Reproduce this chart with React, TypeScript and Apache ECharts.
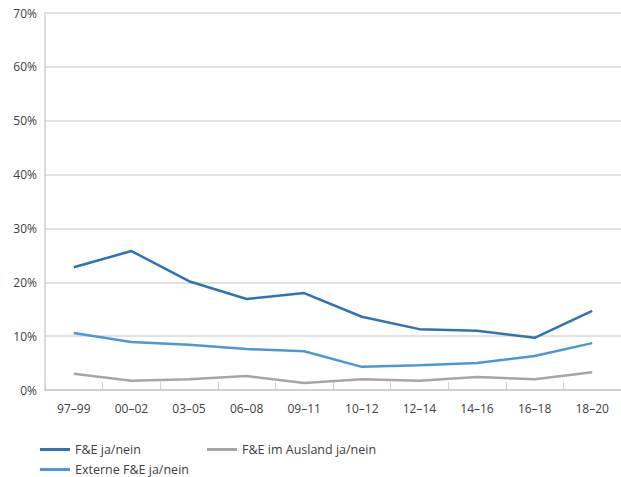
import React, { useEffect, useRef } from "react";
import * as echarts from "echarts";

const categories = ["97–99", "00–02", "03–05", "06–08", "09–11", "10–12", "12–14", "14–16", "16–18", "18–20"];
const feJaNein = [22.8, 25.8, 20.2, 16.9, 18.0, 13.6, 11.3, 11.0, 9.7, 14.7];
const externeFe = [10.6, 8.9, 8.4, 7.6, 7.2, 4.3, 4.6, 5.0, 6.3, 8.7];
const feAusland = [3.0, 1.7, 2.0, 2.6, 1.3, 2.0, 1.7, 2.4, 2.0, 3.3];
const seriesNames = ["F&E ja/nein", "Externe F&E ja/nein", "F&E im Ausland ja/nein"];
const colors = ["#2e74b5", "#4e97d6", "#a6a6a6"];

const FONT = "Open Sans";

export default function App() {
  const ref = useRef<HTMLDivElement>(null);
  useEffect(() => {
    if (!ref.current) return;
    const chart = echarts.init(ref.current, null, { renderer: "svg" });
    const legendBase = {
      icon: "rect",
      itemWidth: 30,
      itemHeight: 3,
      itemGap: 8,
      textStyle: { fontFamily: FONT, fontSize: 12.5, color: "#404040" },
      selectedMode: false as const,
    };
    chart.setOption({
      animation: false,
      backgroundColor: "#ffffff",
      grid: { left: 45, top: 13, width: 579, height: 377, containLabel: false },
      legend: [
        { ...legendBase, left: 35, top: 438, data: [seriesNames[0]] },
        { ...legendBase, left: 202, top: 438, data: [seriesNames[2]] },
        { ...legendBase, left: 35, top: 458, data: [seriesNames[1]] },
      ],
      xAxis: {
        type: "category",
        data: categories,
        boundaryGap: true,
        axisLine: { show: true, lineStyle: { color: "#d0d0d0", width: 2 } },
        axisTick: { show: true, inside: true, length: 8, interval: 0, lineStyle: { color: "#d0d0d0", width: 1 } },
        axisLabel: { fontFamily: FONT, fontSize: 12, color: "#404040", margin: 12, interval: 0 },
        splitLine: { show: false },
      },
      yAxis: {
        type: "value",
        min: 0,
        max: 70,
        interval: 10,
        axisLine: { show: true, lineStyle: { color: "#d0d0d0", width: 1.5 } },
        axisTick: { show: false },
        axisLabel: { fontFamily: FONT, fontSize: 12, color: "#404040", margin: 8, formatter: "{value}%" },
        splitLine: { show: true, lineStyle: { color: "#d9d9d9", width: 1.5 } },
      },
      series: [
        { name: seriesNames[0], type: "line", data: feJaNein, color: colors[0], symbol: "none", lineStyle: { width: 2.5, color: colors[0] } },
        { name: seriesNames[1], type: "line", data: externeFe, color: colors[1], symbol: "none", lineStyle: { width: 2.5, color: colors[1] } },
        { name: seriesNames[2], type: "line", data: feAusland, color: colors[2], symbol: "none", lineStyle: { width: 2.5, color: colors[2] } },
      ],
    });
    return () => chart.dispose();
  }, []);
  return <div ref={ref} style={{ width: 621, height: 477, position: "absolute", left: 0, top: 0 }} />;
}
